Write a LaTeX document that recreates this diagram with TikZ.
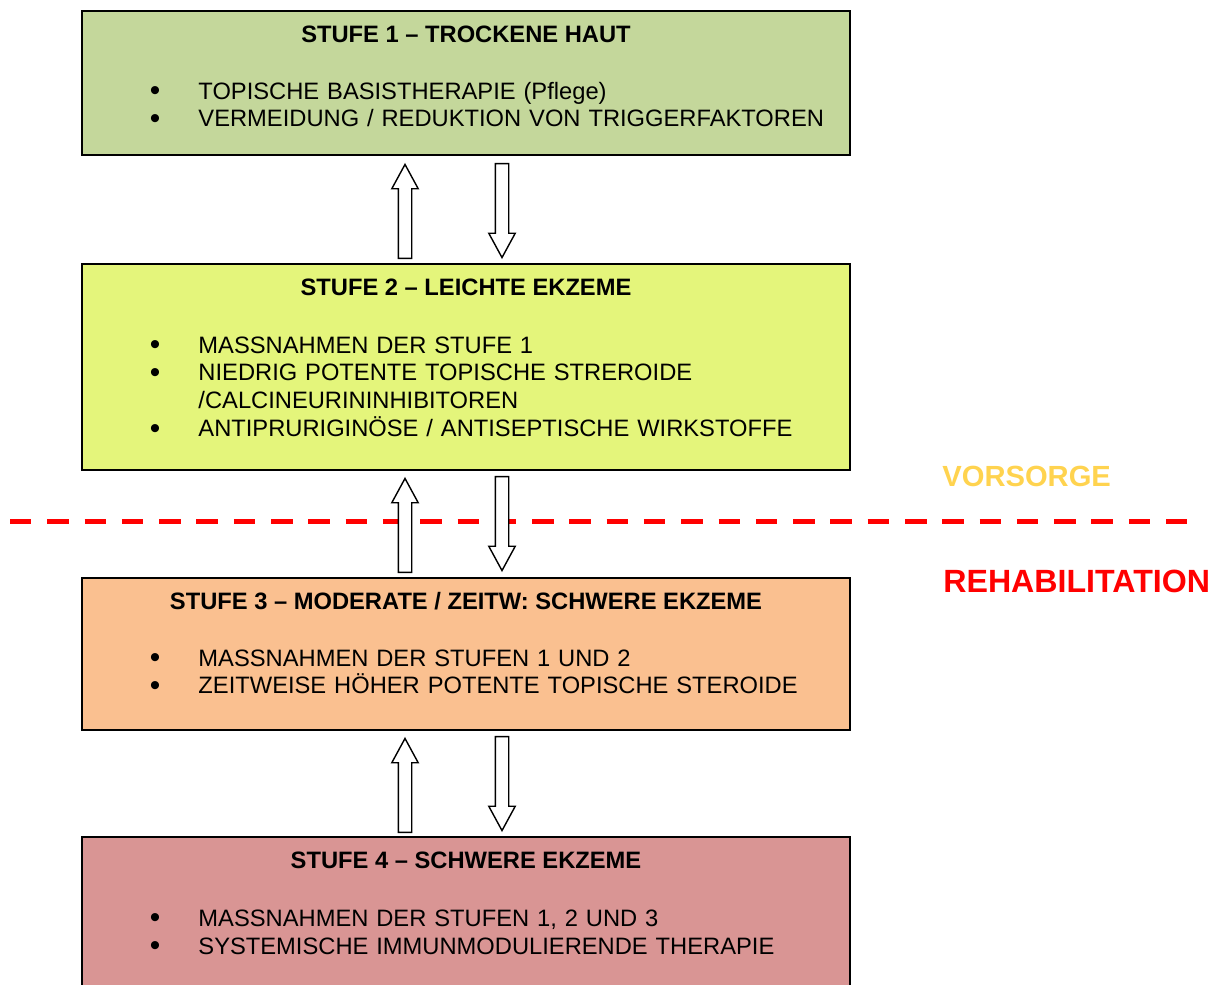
\documentclass[tikz,border=0pt]{standalone}
\usepackage{fontspec}
\setmainfont{Liberation Sans}
\usetikzlibrary{shapes.arrows,calc}

\definecolor{stufeeins}{HTML}{C4D79B}
\definecolor{stufezwei}{HTML}{E4F57B}
\definecolor{stufedrei}{HTML}{FAC090}
\definecolor{stufevier}{HTML}{D99594}
\definecolor{vorsorgegelb}{HTML}{FFD34F}
\newcommand\pkt{\leavevmode\llap{\makebox[0.97cm][l]{\raisebox{-0.8pt}{\fontsize{17}{17}\selectfont\textbullet}}}}

\begin{document}
\begin{tikzpicture}[x=0.02cm,y=-0.02cm,
    stufe/.style={draw=black,line width=1.1pt,minimum width=15.36cm,inner sep=0pt},
    titel/.style={anchor=base,inner sep=0pt,font=\fontsize{13.5}{15.9}\selectfont\bfseries},
    punkte/.style={anchor=base west,align=left,text width=13.2cm,inner sep=0pt,font=\fontsize{13.5}{15.9}\selectfont},
    pfeil/.style={single arrow,draw=black,fill=white,line width=0.8pt,inner xsep=0pt,inner ysep=0.12cm,
      minimum height=1.88cm,single arrow head extend=0.13cm,single arrow tip angle=57,anchor=tip}]
    \useasboundingbox (0,0) rectangle (1223,984);

    % Stufen
    \node[stufe,fill=stufeeins,minimum height=2.88cm] (s1) at (466,83) {};
    \node[stufe,fill=stufezwei,minimum height=4.12cm] (s2) at (466,367) {};
    \node[stufe,fill=stufedrei,minimum height=3.04cm] (s3) at (466,654) {};
    \node[stufe,fill=stufevier,minimum height=3.2cm] (s4) at (466,917) {};

    % Titel
    \node[titel] (t1) at ($(s1.north)+(0,32)$) {STUFE 1 – TROCKENE HAUT};
    \node[titel] (t2) at ($(s2.north)+(0,32)$) {STUFE 2 – LEICHTE EKZEME};
    \node[titel] (t3) at ($(s3.north)+(0,32)$) {STUFE 3 – MODERATE / ZEITW: SCHWERE EKZEME};
    \node[titel] (t4) at ($(s4.north)+(0,32)$) {STUFE 4 – SCHWERE EKZEME};

    % Massnahmen
    \node[punkte] (p1) at ($(s1.north west)+(117,89)$) {\pkt TOPISCHE BASISTHERAPIE (Pflege)\\
      \pkt VERMEIDUNG / REDUKTION VON TRIGGERFAKTOREN};
    \node[punkte] (p2) at ($(s2.north west)+(117,90)$) {\pkt MASSNAHMEN DER STUFE 1\\
      \pkt NIEDRIG POTENTE TOPISCHE STREROIDE\\
      /CALCINEURININHIBITOREN\\
      \pkt ANTIPRURIGINÖSE / ANTISEPTISCHE WIRKSTOFFE};
    \node[punkte] (p3) at ($(s3.north west)+(117,89)$) {\pkt MASSNAHMEN DER STUFEN 1 UND 2\\
      \pkt ZEITWEISE HÖHER POTENTE TOPISCHE STEROIDE};
    \node[punkte] (p4) at ($(s4.north west)+(117,90)$) {\pkt MASSNAHMEN DER STUFEN 1, 2 UND 3\\
      \pkt SYSTEMISCHE IMMUNMODULIERENDE THERAPIE};

    % Grenze
    \coordinate (grenzeL) at (10,521.5);
    \coordinate (grenzeR) at (1187,521.5);
    \draw[red,line width=0.1cm,dash pattern=on 0.43cm off 0.316cm] (grenzeL) -- (grenzeR);
    \node[anchor=base west,inner sep=0pt,text=vorsorgegelb,font=\fontsize{16.6}{20}\selectfont\bfseries] (vorsorge) at (942,486) {VORSORGE};
    \node[anchor=base west,inner sep=0pt,text=red,font=\fontsize{18.3}{21}\selectfont\bfseries] (reha) at (943,592) {REHABILITATION};

    % Pfeile
    \node[pfeil,rotate=90] (a12) at ($(s1.south)+(-61,7)$) {};
    \node[pfeil,rotate=-90] (b12) at ($(s2.north)+(36,-4)$) {};
    \node[pfeil,rotate=90] (a23) at ($(s2.south)+(-61,6)$) {};
    \node[pfeil,rotate=-90] (b23) at ($(s3.north)+(36,-5)$) {};
    \node[pfeil,rotate=90] (a34) at ($(s3.south)+(-61,6)$) {};
    \node[pfeil,rotate=-90] (b34) at ($(s4.north)+(36,-4)$) {};
\end{tikzpicture}
\end{document}
